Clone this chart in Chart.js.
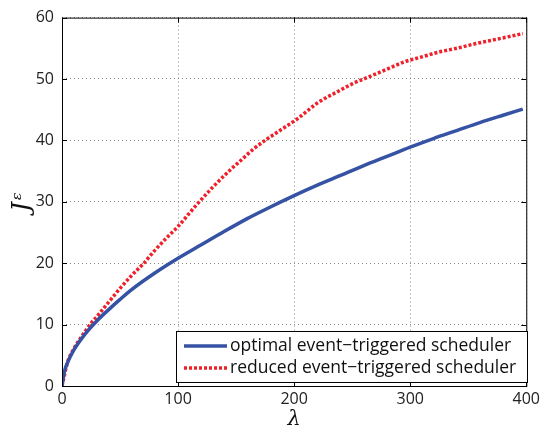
<!DOCTYPE html>
<html>
<head>
<meta charset="utf-8">
<script src="https://cdn.jsdelivr.net/npm/chart.js@4.4.1/dist/chart.umd.min.js"></script>
<style>
  html, body { margin: 0; padding: 0; background: #fff; }
  #wrap { width: 544px; height: 432px; }
</style>
</head>
<body>
<div id="wrap"><canvas id="chart" width="544" height="432"></canvas></div>
<script>
// values
const optLambda = [0, 2, 5, 10, 20, 30, 40, 50, 60, 80, 100, 120, 140, 160, 180, 200, 220, 240, 260, 280, 300, 320, 340, 360, 380, 397];
const optCost   = [0, 2.3, 3.9, 5.8, 8.5, 10.6, 12.4, 14.1, 15.7, 18.4, 20.8, 23.0, 25.2, 27.3, 29.2, 31.0, 32.7, 34.3, 35.9, 37.4, 38.9, 40.3, 41.6, 42.9, 44.1, 45.1];

const redLambda = [0, 5, 10, 20, 25, 30, 40, 50, 60, 70, 80, 90, 100, 115, 130, 145, 155, 165, 175, 190, 202, 212, 220, 238, 250, 265, 280, 295, 310, 325, 340, 355, 370, 385, 397];
const redCost   = [0, 4.0, 6.0, 8.9, 10.2, 11.3, 13.6, 15.9, 18.0, 19.9, 22.1, 24.1, 26.0, 29.3, 32.4, 35.2, 36.9, 38.6, 40.0, 41.9, 43.4, 44.9, 46.1, 48.0, 49.2, 50.4, 51.6, 52.8, 53.6, 54.4, 55.0, 55.7, 56.3, 56.9, 57.4];

const seriesNames = ['optimal event\u2212triggered scheduler', 'reduced event\u2212triggered scheduler'];
const xTicks = [0, 100, 200, 300, 400];
const yTicks = [0, 10, 20, 30, 40, 50, 60];

const toPoints = (xs, ys) => xs.map((x, i) => ({ x: x, y: ys[i] }));

const fontFam = '"Open Sans", "DejaVu Sans", sans-serif';

// box, inward ticks and the legend box, MATLAB style
const framePlugin = {
  id: 'frame',
  afterDraw(chart) {
    const ctx = chart.ctx;
    const a = chart.chartArea;
    const xs = chart.scales.x, ys = chart.scales.y;
    ctx.save();
    ctx.strokeStyle = '#000';
    ctx.lineWidth = 1;
    ctx.setLineDash([]);
    ctx.strokeRect(a.left + 0.5, a.top + 0.5, a.right - a.left, a.bottom - a.top);
    ctx.beginPath();
    xTicks.forEach(v => {
      const px = Math.round(xs.getPixelForValue(v)) + 0.5;
      ctx.moveTo(px, a.bottom); ctx.lineTo(px, a.bottom - 5);
      ctx.moveTo(px, a.top); ctx.lineTo(px, a.top + 5);
    });
    yTicks.forEach(v => {
      const py = Math.round(ys.getPixelForValue(v)) + 0.5;
      ctx.moveTo(a.left, py); ctx.lineTo(a.left + 5, py);
      ctx.moveTo(a.right, py); ctx.lineTo(a.right - 5, py);
    });
    ctx.stroke();

    // legend
    const lx = 176, ly = 331, lw = 351, lh = 51;
    ctx.fillStyle = '#fff';
    ctx.fillRect(lx, ly, lw, lh);
    ctx.strokeRect(lx + 0.5, ly + 0.5, lw, lh);
    ctx.font = '17.5px ' + fontFam;
    ctx.textBaseline = 'middle';
    chart.data.datasets.forEach((ds, i) => {
      const y = ly + 15 + i * 22;
      ctx.strokeStyle = ds.borderColor;
      ctx.lineWidth = ds.borderWidth;
      ctx.setLineDash(ds.borderDash || []);
      ctx.beginPath();
      ctx.moveTo(lx + 8, y); ctx.lineTo(lx + 51, y);
      ctx.stroke();
      ctx.fillStyle = '#111';
      ctx.fillText(ds.label, lx + 54, y);
    });
    ctx.restore();
  }
};

new Chart(document.getElementById('chart'), {
  type: 'line',
  data: {
    datasets: [{
      label: seriesNames[0],
      data: toPoints(optLambda, optCost),
      borderColor: '#3552a4',
      borderWidth: 3.5,
      pointRadius: 0,
      cubicInterpolationMode: 'monotone',
      fill: false
    }, {
      label: seriesNames[1],
      data: toPoints(redLambda, redCost),
      borderColor: '#f0202a',
      borderWidth: 3.5,
      borderDash: [3, 2],
      pointRadius: 0,
      cubicInterpolationMode: 'monotone',
      fill: false
    }]
  },
  options: {
    responsive: false,
    animation: false,
    layout: { padding: { top: 17, right: 15, left: 0, bottom: 0 } },
    plugins: {
      legend: { display: false },
      tooltip: { enabled: false }
    },
    scales: {
      x: {
        type: 'linear',
        min: 0,
        max: 400,
        afterBuildTicks: s => { s.ticks = xTicks.map(v => ({ value: v })); },
        afterFit: s => { s.height = 46; },
        grid: { color: '#888', drawTicks: false, lineWidth: 1 },
        border: { display: false, dash: [1, 3] },
        ticks: { color: '#222', padding: 4, font: { size: 16, family: fontFam } },
        title: {
          display: true,
          text: '\u03bb',
          color: '#111',
          padding: { top: 0, bottom: 0 },
          font: { size: 21, family: '"DejaVu Serif", serif', style: 'italic' }
        }
      },
      y: {
        type: 'linear',
        min: 0,
        max: 60,
        afterBuildTicks: s => { s.ticks = yTicks.map(v => ({ value: v })); },
        afterFit: s => { s.width = 62; },
        grid: { color: '#888', drawTicks: false, lineWidth: 1 },
        border: { display: false, dash: [1, 3] },
        ticks: { color: '#222', padding: 8, font: { size: 16, family: fontFam } },
        title: {
          display: true,
          text: 'J\u1d4b',
          color: '#111',
          padding: { top: 8, bottom: 0 },
          font: { size: 24, family: '"DejaVu Serif", serif', style: 'italic' }
        }
      }
    }
  },
  plugins: [framePlugin]
});
</script>
</body>
</html>
